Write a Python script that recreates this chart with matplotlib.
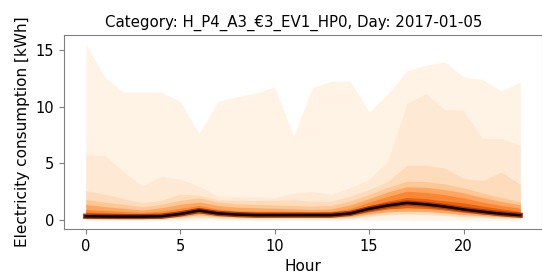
import numpy as np
import matplotlib
matplotlib.use("Agg")
import matplotlib.pyplot as plt

hours = list(range(24))

# quantile curves (kWh), outer to inner
q_max = [15.57, 12.63, 11.3, 11.3, 11.3, 10.48, 7.63, 10.48, 10.87, 11.2, 11.75, 7.4,
         11.69, 12.25, 12.25, 9.55, 11.16, 13.16, 13.66, 13.95, 12.63, 12.4, 11.4, 12.19]
q_u2 = [5.73, 5.73, 4.26, 3.03, 3.88, 3.6, 3.0, 2.12, 2.06, 2.06, 2.0, 2.4,
        2.54, 2.27, 2.86, 3.59, 5.2, 10.28, 11.16, 9.75, 9.69, 7.2, 7.2, 6.6]
q_u3 = [2.6, 2.3, 1.9, 1.55, 1.75, 2.3, 2.2, 1.8, 1.75, 1.75, 1.75, 1.8,
        1.68, 1.68, 2.12, 2.71, 3.44, 4.83, 4.83, 4.6, 3.7, 3.5, 4.24, 3.15]
q_u4 = [1.83, 1.6, 1.4, 1.18, 1.4, 1.75, 1.97, 1.6, 1.45, 1.4, 1.35, 1.3,
        1.24, 1.3, 1.7, 2.27, 2.9, 3.44, 3.4, 3.2, 2.86, 2.4, 2.0, 1.65]
q_u5 = [1.39, 1.2, 1.05, 0.9, 1.1, 1.4, 1.6, 1.3, 1.15, 1.1, 1.05, 1.0,
        0.94, 1.0, 1.35, 1.89, 2.5, 2.95, 2.9, 2.7, 2.42, 2.0, 1.65, 1.36]
q_u6 = [0.94, 0.85, 0.78, 0.7, 0.8, 1.05, 1.3, 1.0, 0.85, 0.8, 0.8, 0.78,
        0.75, 0.78, 1.05, 1.59, 2.1, 2.56, 2.45, 2.25, 1.97, 1.6, 1.3, 1.06]
q_u7 = [0.71, 0.65, 0.6, 0.55, 0.6, 0.85, 1.1, 0.8, 0.7, 0.65, 0.63, 0.63,
        0.62, 0.63, 0.85, 1.3, 1.7, 2.0, 1.9, 1.7, 1.53, 1.25, 1.0, 0.77]
median = [0.35, 0.33, 0.32, 0.32, 0.35, 0.55, 0.85, 0.6, 0.5, 0.45, 0.45, 0.45,
          0.45, 0.45, 0.6, 1.0, 1.3, 1.52, 1.4, 1.2, 0.95, 0.75, 0.57, 0.44]
q_l1 = [0.25, 0.24, 0.23, 0.23, 0.25, 0.42, 0.65, 0.45, 0.38, 0.34, 0.34, 0.34,
        0.34, 0.34, 0.45, 0.75, 1.0, 1.1, 1.05, 0.9, 0.7, 0.55, 0.42, 0.32]
q_l2 = [0.17, 0.16, 0.16, 0.16, 0.17, 0.3, 0.48, 0.33, 0.27, 0.24, 0.24, 0.24,
        0.24, 0.24, 0.32, 0.55, 0.75, 0.8, 0.78, 0.66, 0.5, 0.4, 0.3, 0.22]
q_l3 = [0.1, 0.1, 0.1, 0.1, 0.1, 0.18, 0.3, 0.2, 0.16, 0.14, 0.14, 0.14,
        0.14, 0.14, 0.2, 0.35, 0.48, 0.53, 0.5, 0.42, 0.32, 0.25, 0.18, 0.13]
q_min = [0.0] * 24

title = "Category: H_P4_A3_€3_EV1_HP0, Day: 2017-01-05"

cmap = plt.get_cmap("Oranges")
bands = [
    (q_min, q_max, 0.02),
    (q_l3, q_u2, 0.10),
    (q_l3, q_u3, 0.18),
    (q_l2, q_u4, 0.28),
    (q_l2, q_u5, 0.40),
    (q_l1, q_u6, 0.52),
    (q_l1, q_u7, 0.66),
]

fig = plt.figure(figsize=(5.42, 2.73), dpi=100)
ax = fig.add_axes([0.118, 0.161, 0.882, 0.712])

for lo, hi, c in bands:
    ax.fill_between(hours, lo, hi, color=cmap(c), linewidth=0)

ax.plot(hours, median, color=cmap(0.85), linewidth=3.8)
ax.plot(hours, median, color="black", linewidth=1.8)

ax.set_xticks([0, 5, 10, 15, 20])
ax.set_yticks([0, 5, 10, 15])
ax.set_xlabel("Hour", fontsize=11)
ax.set_ylabel("Electricity consumption [kWh]", fontsize=11)
ax.set_title(title, fontsize=10.8, x=(294 - 64) / 478)
ax.tick_params(labelsize=10.5, color="#808080")
for s in ax.spines.values():
    s.set_color("#808080")

fig.savefig("out.png", dpi=100)
